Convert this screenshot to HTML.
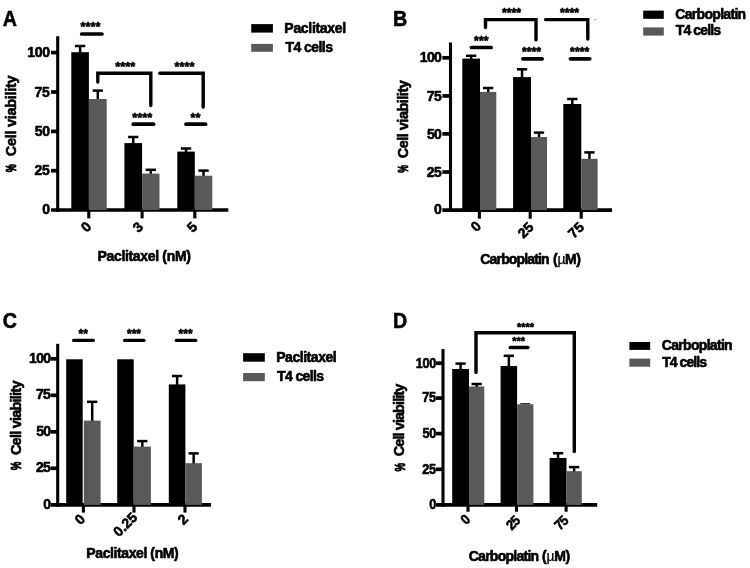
<!DOCTYPE html>
<html><head><meta charset="utf-8"><title>Cell viability</title>
<style>
html,body{margin:0;padding:0;background:#fff;}
svg{display:block}
svg text{font-family:'Liberation Sans', Arial, Helvetica, sans-serif;font-weight:bold;fill:#000;stroke:#000;stroke-width:0.6px;stroke-linejoin:round;font-kerning:none;white-space:pre}
</style></head>
<body>
<svg width="750" height="568" viewBox="0 0 750 568">
<rect width="750" height="568" fill="#fff"/>
<text x="-0.56" y="0" font-size="22.6" transform="translate(3.2 25.6) scale(0.87 1)">A</text>
<line x1="57.7" y1="36.2" x2="57.7" y2="211.85" stroke="#000" stroke-width="3.1" stroke-linecap="butt"/>
<line x1="51.0" y1="210.0" x2="228.3" y2="210.0" stroke="#000" stroke-width="3.7" stroke-linecap="butt"/>
<line x1="51.0" y1="52.6" x2="57.7" y2="52.6" stroke="#000" stroke-width="3.7" stroke-linecap="butt"/>
<line x1="51.0" y1="92.0" x2="57.7" y2="92.0" stroke="#000" stroke-width="3.7" stroke-linecap="butt"/>
<line x1="51.0" y1="131.4" x2="57.7" y2="131.4" stroke="#000" stroke-width="3.7" stroke-linecap="butt"/>
<line x1="51.0" y1="170.7" x2="57.7" y2="170.7" stroke="#000" stroke-width="3.7" stroke-linecap="butt"/>
<line x1="88.8" y1="210.0" x2="88.8" y2="218.4" stroke="#000" stroke-width="3.1" stroke-linecap="butt"/>
<line x1="142.1" y1="210.0" x2="142.1" y2="218.4" stroke="#000" stroke-width="3.1" stroke-linecap="butt"/>
<line x1="194.8" y1="210.0" x2="194.8" y2="218.4" stroke="#000" stroke-width="3.1" stroke-linecap="butt"/>
<text x="27.22" y="57.31" font-size="14" letter-spacing="-0.251">100</text>
<text x="34.57" y="96.71" font-size="14" letter-spacing="-0.251">75</text>
<text x="34.75" y="136.11" font-size="14" letter-spacing="-0.251">50</text>
<text x="34.57" y="175.41" font-size="14" letter-spacing="-0.251">25</text>
<text x="42.29" y="214.31" font-size="14">0</text>
<line x1="80.1" y1="46" x2="80.1" y2="53.2" stroke="#000" stroke-width="2.5" stroke-linecap="butt"/>
<line x1="74.95" y1="46" x2="85.25" y2="46" stroke="#000" stroke-width="2.5" stroke-linecap="butt"/>
<rect x="71.3" y="52.2" width="17.6" height="157.8" fill="#000"/>
<line x1="97.8" y1="90.6" x2="97.8" y2="100" stroke="#000" stroke-width="2.5" stroke-linecap="butt"/>
<line x1="92.65" y1="90.6" x2="102.95" y2="90.6" stroke="#000" stroke-width="2.5" stroke-linecap="butt"/>
<rect x="88.9" y="99" width="17.8" height="111.0" fill="#595959"/>
<line x1="133.25" y1="137" x2="133.25" y2="144.1" stroke="#000" stroke-width="2.5" stroke-linecap="butt"/>
<line x1="128.1" y1="137" x2="138.4" y2="137" stroke="#000" stroke-width="2.5" stroke-linecap="butt"/>
<rect x="124.4" y="143.1" width="17.7" height="66.9" fill="#000"/>
<line x1="150.8" y1="169.8" x2="150.8" y2="174.6" stroke="#000" stroke-width="2.5" stroke-linecap="butt"/>
<line x1="145.65" y1="169.8" x2="155.95" y2="169.8" stroke="#000" stroke-width="2.5" stroke-linecap="butt"/>
<rect x="142.1" y="173.6" width="17.4" height="36.4" fill="#595959"/>
<line x1="186.05" y1="148.5" x2="186.05" y2="152.6" stroke="#000" stroke-width="2.5" stroke-linecap="butt"/>
<line x1="180.9" y1="148.5" x2="191.2" y2="148.5" stroke="#000" stroke-width="2.5" stroke-linecap="butt"/>
<rect x="177.3" y="151.6" width="17.5" height="58.4" fill="#000"/>
<line x1="203.55" y1="170.6" x2="203.55" y2="176.7" stroke="#000" stroke-width="2.5" stroke-linecap="butt"/>
<line x1="198.4" y1="170.6" x2="208.7" y2="170.6" stroke="#000" stroke-width="2.5" stroke-linecap="butt"/>
<rect x="194.8" y="175.7" width="17.5" height="34.3" fill="#595959"/>
<line x1="81.65" y1="34" x2="101.95" y2="34" stroke="#000" stroke-width="3.7" stroke-linecap="round"/>
<text x="80.53" y="30.93" font-size="12.8">****</text>
<line x1="133.25" y1="124.2" x2="153.55" y2="124.2" stroke="#000" stroke-width="3.7" stroke-linecap="round"/>
<text x="132.33" y="122.03" font-size="12.8">****</text>
<line x1="186.05" y1="124.2" x2="205.55" y2="124.2" stroke="#000" stroke-width="3.7" stroke-linecap="round"/>
<text x="190.61" y="122.23" font-size="12.8">**</text>
<polyline points="97.8,82 97.8,73.3 150.8,73.3 150.8,105.5" fill="none" stroke="#000" stroke-width="3.4" stroke-linejoin="miter" stroke-linecap="round"/>
<text x="115.22" y="71.23" font-size="12.8">****</text>
<polyline points="159.8,73.3 203.2,73.3 203.2,107.1" fill="none" stroke="#000" stroke-width="3.4" stroke-linejoin="miter" stroke-linecap="round"/>
<text x="174.62" y="71.23" font-size="12.8">****</text>
<text x="-7.21" y="0" font-size="14" transform="translate(91.8 228) rotate(-45)">0</text>
<text x="-7.28" y="0" font-size="14" transform="translate(143.6 228) rotate(-45)">3</text>
<text x="-7.4" y="0" font-size="14" transform="translate(198 228) rotate(-45)">5</text>
<text x="97.46" y="260.6" font-size="14" letter-spacing="-0.328">Paclitaxel (nM)</text>
<text x="15.8" y="156.19" font-size="14.5" transform="rotate(-90 15.8 156.19)" letter-spacing="-0.295">Cell viability</text>
<text x="-0.19" y="0" font-size="15.5" style="stroke-width:1.0px" transform="translate(16.1 172.2) rotate(-90) scale(0.5826 1)">%</text>
<rect x="251.2" y="24.1" width="21.7" height="8.5" fill="#000"/>
<rect x="251.2" y="43.9" width="21.7" height="7.9" fill="#595959"/>
<text x="284.36" y="32.5" font-size="14" letter-spacing="-0.308">Paclitaxel</text>
<text x="285.44" y="52.3" font-size="14" letter-spacing="-0.548">T4 cells</text>
<text x="-1.51" y="0" font-size="22.6" transform="translate(394.3 25.6) scale(0.87 1)">B</text>
<line x1="450.5" y1="42.6" x2="450.5" y2="211.95" stroke="#000" stroke-width="3.1" stroke-linecap="butt"/>
<line x1="442.4" y1="210.1" x2="612" y2="210.1" stroke="#000" stroke-width="3.7" stroke-linecap="butt"/>
<line x1="442.4" y1="57.8" x2="450.5" y2="57.8" stroke="#000" stroke-width="3.7" stroke-linecap="butt"/>
<line x1="442.4" y1="95.9" x2="450.5" y2="95.9" stroke="#000" stroke-width="3.7" stroke-linecap="butt"/>
<line x1="442.4" y1="133.9" x2="450.5" y2="133.9" stroke="#000" stroke-width="3.7" stroke-linecap="butt"/>
<line x1="442.4" y1="172.0" x2="450.5" y2="172.0" stroke="#000" stroke-width="3.7" stroke-linecap="butt"/>
<line x1="479.4" y1="210.1" x2="479.4" y2="218.7" stroke="#000" stroke-width="3.1" stroke-linecap="butt"/>
<line x1="530.2" y1="210.1" x2="530.2" y2="218.7" stroke="#000" stroke-width="3.1" stroke-linecap="butt"/>
<line x1="581.2" y1="210.1" x2="581.2" y2="218.7" stroke="#000" stroke-width="3.1" stroke-linecap="butt"/>
<text x="419.82" y="62.41" font-size="14" letter-spacing="-0.651">100</text>
<text x="426.77" y="100.51" font-size="14" letter-spacing="-0.651">75</text>
<text x="426.95" y="138.51" font-size="14" letter-spacing="-0.651">50</text>
<text x="426.77" y="176.61" font-size="14" letter-spacing="-0.651">25</text>
<text x="434.09" y="214.41" font-size="14">0</text>
<line x1="471.15" y1="55.8" x2="471.15" y2="59.6" stroke="#000" stroke-width="2.5" stroke-linecap="butt"/>
<line x1="466.0" y1="55.8" x2="476.3" y2="55.8" stroke="#000" stroke-width="2.5" stroke-linecap="butt"/>
<rect x="462.3" y="58.6" width="17.7" height="151.5" fill="#000"/>
<line x1="488.15" y1="88" x2="488.15" y2="92.9" stroke="#000" stroke-width="2.5" stroke-linecap="butt"/>
<line x1="483.0" y1="88" x2="493.3" y2="88" stroke="#000" stroke-width="2.5" stroke-linecap="butt"/>
<rect x="480.0" y="91.9" width="16.3" height="118.2" fill="#595959"/>
<line x1="522.05" y1="69.3" x2="522.05" y2="78.1" stroke="#000" stroke-width="2.5" stroke-linecap="butt"/>
<line x1="516.9" y1="69.3" x2="527.2" y2="69.3" stroke="#000" stroke-width="2.5" stroke-linecap="butt"/>
<rect x="513.1" y="77.1" width="17.9" height="133.0" fill="#000"/>
<line x1="539.0" y1="132.6" x2="539.0" y2="138" stroke="#000" stroke-width="2.5" stroke-linecap="butt"/>
<line x1="533.85" y1="132.6" x2="544.15" y2="132.6" stroke="#000" stroke-width="2.5" stroke-linecap="butt"/>
<rect x="531" y="137" width="16" height="73.1" fill="#595959"/>
<line x1="572.3" y1="99" x2="572.3" y2="105.0" stroke="#000" stroke-width="2.5" stroke-linecap="butt"/>
<line x1="567.15" y1="99" x2="577.45" y2="99" stroke="#000" stroke-width="2.5" stroke-linecap="butt"/>
<rect x="563.3" y="104.0" width="18.0" height="106.1" fill="#000"/>
<line x1="589.45" y1="152.4" x2="589.45" y2="159.8" stroke="#000" stroke-width="2.5" stroke-linecap="butt"/>
<line x1="584.3" y1="152.4" x2="594.6" y2="152.4" stroke="#000" stroke-width="2.5" stroke-linecap="butt"/>
<rect x="581.3" y="158.8" width="16.3" height="51.3" fill="#595959"/>
<line x1="471.45" y1="47.5" x2="491.15" y2="47.5" stroke="#000" stroke-width="3.7" stroke-linecap="round"/>
<text x="474.11" y="44.87" font-size="12.3">***</text>
<line x1="522.85" y1="58.8" x2="542.15" y2="58.8" stroke="#000" stroke-width="3.7" stroke-linecap="round"/>
<text x="522.01" y="56.47" font-size="12.3">****</text>
<line x1="570.45" y1="58.8" x2="589.75" y2="58.8" stroke="#000" stroke-width="3.7" stroke-linecap="round"/>
<text x="570.11" y="56.47" font-size="12.3">****</text>
<polyline points="485.5,27.5 485.5,19.6 536,19.6 536,39.9" fill="none" stroke="#000" stroke-width="3.4" stroke-linejoin="miter" stroke-linecap="round"/>
<text x="501.91" y="17.17" font-size="12.3">****</text>
<polyline points="545.5,19.6 587.8,19.6 587.8,39.1" fill="none" stroke="#000" stroke-width="3.4" stroke-linejoin="miter" stroke-linecap="round"/>
<text x="559.91" y="17.17" font-size="12.3">****</text>
<rect x="594.5" y="19.1" width="1.1" height="1.0" fill="#555"/>
<text x="-7.21" y="0" font-size="14" transform="translate(481.5 227.3) rotate(-45)">0</text>
<text x="-15.18" y="0" font-size="14" transform="translate(534.3 228.2) rotate(-45)">25</text>
<text x="-15.18" y="0" font-size="14" transform="translate(584.6 228.2) rotate(-45)">75</text>
<text x="480.33" y="263.7" font-size="14" letter-spacing="-0.844">Carboplatin</text>
<text x="553.1" y="263.7" font-size="14" letter-spacing="-0.386">(<tspan style="font-weight:normal;stroke-width:0.25px">µ</tspan>M)</text>
<text x="407.7" y="158.29" font-size="14.5" transform="rotate(-90 407.7 158.29)" letter-spacing="-0.503">Cell viability</text>
<text x="-0.19" y="0" font-size="15.5" style="stroke-width:1.0px" transform="translate(408.0 172.7) rotate(-90) scale(0.5602 1)">%</text>
<rect x="643.2" y="10.6" width="20.6" height="8.2" fill="#000"/>
<rect x="643.2" y="27.4" width="20.6" height="8.2" fill="#595959"/>
<text x="675.33" y="18.6" font-size="14" letter-spacing="-0.694">Carboplatin</text>
<text x="675.74" y="35.4" font-size="14" letter-spacing="-0.876">T4 cells</text>
<text x="-0.93" y="0" font-size="22.6" transform="translate(3.5 327.5) scale(0.87 1)">C</text>
<line x1="57.7" y1="343.8" x2="57.7" y2="506.75" stroke="#000" stroke-width="3.1" stroke-linecap="butt"/>
<line x1="50.8" y1="504.9" x2="211" y2="504.9" stroke="#000" stroke-width="3.7" stroke-linecap="butt"/>
<line x1="50.8" y1="358.8" x2="57.7" y2="358.8" stroke="#000" stroke-width="3.7" stroke-linecap="butt"/>
<line x1="50.8" y1="395.3" x2="57.7" y2="395.3" stroke="#000" stroke-width="3.7" stroke-linecap="butt"/>
<line x1="50.8" y1="431.8" x2="57.7" y2="431.8" stroke="#000" stroke-width="3.7" stroke-linecap="butt"/>
<line x1="50.8" y1="468.3" x2="57.7" y2="468.3" stroke="#000" stroke-width="3.7" stroke-linecap="butt"/>
<line x1="83.4" y1="504.9" x2="83.4" y2="512.6" stroke="#000" stroke-width="3.1" stroke-linecap="butt"/>
<line x1="134" y1="504.9" x2="134" y2="512.6" stroke="#000" stroke-width="3.1" stroke-linecap="butt"/>
<line x1="185" y1="504.9" x2="185" y2="512.6" stroke="#000" stroke-width="3.1" stroke-linecap="butt"/>
<text x="29.02" y="362.81" font-size="14" letter-spacing="-0.651">100</text>
<text x="35.97" y="399.31" font-size="14" letter-spacing="-0.651">75</text>
<text x="36.15" y="435.81" font-size="14" letter-spacing="-0.651">50</text>
<text x="35.97" y="472.31" font-size="14" letter-spacing="-0.651">25</text>
<text x="43.29" y="508.91" font-size="14">0</text>
<rect x="66.2" y="359.3" width="16.5" height="145.6" fill="#000"/>
<line x1="92.2" y1="401.8" x2="92.2" y2="421.6" stroke="#000" stroke-width="2.5" stroke-linecap="butt"/>
<line x1="87.05" y1="401.8" x2="97.35" y2="401.8" stroke="#000" stroke-width="2.5" stroke-linecap="butt"/>
<rect x="83.8" y="420.6" width="16.8" height="84.3" fill="#595959"/>
<rect x="117.2" y="359.3" width="16.5" height="145.6" fill="#000"/>
<line x1="142.3" y1="441.1" x2="142.3" y2="447.6" stroke="#000" stroke-width="2.5" stroke-linecap="butt"/>
<line x1="137.15" y1="441.1" x2="147.45" y2="441.1" stroke="#000" stroke-width="2.5" stroke-linecap="butt"/>
<rect x="133.7" y="446.6" width="17.2" height="58.3" fill="#595959"/>
<line x1="177.1" y1="376" x2="177.1" y2="385.4" stroke="#000" stroke-width="2.5" stroke-linecap="butt"/>
<line x1="171.95" y1="376" x2="182.25" y2="376" stroke="#000" stroke-width="2.5" stroke-linecap="butt"/>
<rect x="168.8" y="384.4" width="16.6" height="120.5" fill="#000"/>
<line x1="193.65" y1="453.4" x2="193.65" y2="464.2" stroke="#000" stroke-width="2.5" stroke-linecap="butt"/>
<line x1="188.5" y1="453.4" x2="198.8" y2="453.4" stroke="#000" stroke-width="2.5" stroke-linecap="butt"/>
<rect x="185.4" y="463.2" width="16.5" height="41.7" fill="#595959"/>
<line x1="73.6" y1="340.4" x2="93.4" y2="340.4" stroke="#000" stroke-width="3.2" stroke-linecap="round"/>
<text x="78.52" y="337.72" font-size="12">**</text>
<line x1="124.6" y1="340.4" x2="144.0" y2="340.4" stroke="#000" stroke-width="3.2" stroke-linecap="round"/>
<text x="126.98" y="337.72" font-size="12">***</text>
<line x1="176.2" y1="340.4" x2="195.8" y2="340.4" stroke="#000" stroke-width="3.2" stroke-linecap="round"/>
<text x="178.58" y="337.72" font-size="12">***</text>
<text x="-7.21" y="0" font-size="14" transform="translate(85.5 520.3) rotate(-45)">0</text>
<text x="-26.86" y="0" font-size="14" transform="translate(138 518.5) rotate(-45)">0.25</text>
<text x="-7.23" y="0" font-size="14" transform="translate(188.5 520.3) rotate(-45)">2</text>
<text x="86.36" y="558.0" font-size="14" letter-spacing="-0.407">Paclitaxel (nM)</text>
<text x="21.1" y="455.09" font-size="14.5" transform="rotate(-90 21.1 455.09)" letter-spacing="-0.772">Cell viability</text>
<text x="-0.19" y="0" font-size="15.5" style="stroke-width:1.0px" transform="translate(21.4 470.1) rotate(-90) scale(0.62 1)">%</text>
<rect x="243.1" y="353.2" width="21.7" height="8.5" fill="#000"/>
<rect x="243.1" y="373" width="21.7" height="8.2" fill="#595959"/>
<text x="276.26" y="361.5" font-size="14" letter-spacing="-0.464">Paclitaxel</text>
<text x="277.04" y="381.3" font-size="14" letter-spacing="-0.619">T4 cells</text>
<text x="-1.51" y="0" font-size="22.6" transform="translate(394.3 327.5) scale(0.87 1)">D</text>
<line x1="443.0" y1="349" x2="443.0" y2="506.75" stroke="#000" stroke-width="3.1" stroke-linecap="butt"/>
<line x1="436.0" y1="504.9" x2="597.2" y2="504.9" stroke="#000" stroke-width="3.7" stroke-linecap="butt"/>
<line x1="436.0" y1="363.2" x2="443.0" y2="363.2" stroke="#000" stroke-width="3.7" stroke-linecap="butt"/>
<line x1="436.0" y1="398.1" x2="443.0" y2="398.1" stroke="#000" stroke-width="3.7" stroke-linecap="butt"/>
<line x1="436.0" y1="433.6" x2="443.0" y2="433.6" stroke="#000" stroke-width="3.7" stroke-linecap="butt"/>
<line x1="436.0" y1="469.3" x2="443.0" y2="469.3" stroke="#000" stroke-width="3.7" stroke-linecap="butt"/>
<line x1="468.0" y1="504.9" x2="468.0" y2="511.7" stroke="#000" stroke-width="3.1" stroke-linecap="butt"/>
<line x1="516.5" y1="504.9" x2="516.5" y2="511.7" stroke="#000" stroke-width="3.1" stroke-linecap="butt"/>
<line x1="566.1" y1="504.9" x2="566.1" y2="511.7" stroke="#000" stroke-width="3.1" stroke-linecap="butt"/>
<text x="-22.22" y="0" font-size="14" transform="translate(435.7 367.51) scale(0.9 1)" letter-spacing="-0.285">100</text>
<text x="-14.9" y="0" font-size="14" transform="translate(435.7 402.41) scale(0.9 1)" letter-spacing="-0.285">75</text>
<text x="-14.71" y="0" font-size="14" transform="translate(435.7 437.91) scale(0.9 1)" letter-spacing="-0.285">50</text>
<text x="-14.9" y="0" font-size="14" transform="translate(435.7 473.61) scale(0.9 1)" letter-spacing="-0.285">25</text>
<text x="-7.21" y="0" font-size="14" transform="translate(435.7 508.81) scale(0.9 1)">0</text>
<line x1="460.6" y1="363.6" x2="460.6" y2="370" stroke="#000" stroke-width="2.5" stroke-linecap="butt"/>
<line x1="455.45" y1="363.6" x2="465.75" y2="363.6" stroke="#000" stroke-width="2.5" stroke-linecap="butt"/>
<rect x="452.2" y="369" width="16.8" height="135.9" fill="#000"/>
<line x1="476.65" y1="384" x2="476.65" y2="387.5" stroke="#000" stroke-width="2.5" stroke-linecap="butt"/>
<line x1="471.5" y1="384" x2="481.8" y2="384" stroke="#000" stroke-width="2.5" stroke-linecap="butt"/>
<rect x="469" y="386.5" width="15.3" height="118.4" fill="#595959"/>
<line x1="508.85" y1="355.8" x2="508.85" y2="367" stroke="#000" stroke-width="2.5" stroke-linecap="butt"/>
<line x1="503.7" y1="355.8" x2="514.0" y2="355.8" stroke="#000" stroke-width="2.5" stroke-linecap="butt"/>
<rect x="500.6" y="366" width="16.5" height="138.9" fill="#000"/>
<line x1="525.25" y1="403.8" x2="525.25" y2="405.3" stroke="#000" stroke-width="1.2" stroke-linecap="butt"/>
<line x1="520.25" y1="403.8" x2="530.25" y2="403.8" stroke="#000" stroke-width="1.2" stroke-linecap="butt"/>
<rect x="517.1" y="404.3" width="16.3" height="100.6" fill="#595959"/>
<line x1="558.05" y1="453.2" x2="558.05" y2="459" stroke="#000" stroke-width="2.5" stroke-linecap="butt"/>
<line x1="552.9" y1="453.2" x2="563.2" y2="453.2" stroke="#000" stroke-width="2.5" stroke-linecap="butt"/>
<rect x="549.6" y="458" width="16.9" height="46.9" fill="#000"/>
<line x1="574.15" y1="467.1" x2="574.15" y2="472.2" stroke="#000" stroke-width="2.5" stroke-linecap="butt"/>
<line x1="569.0" y1="467.1" x2="579.3" y2="467.1" stroke="#000" stroke-width="2.5" stroke-linecap="butt"/>
<rect x="566.5" y="471.2" width="15.3" height="33.7" fill="#595959"/>
<polyline points="476,372.4 476,332.8 574.3,332.8 574.3,451.5" fill="none" stroke="#000" stroke-width="3.4" stroke-linejoin="miter" stroke-linecap="round"/>
<text x="517.01" y="330.97" font-size="10.9">****</text>
<line x1="510.45" y1="347.5" x2="527.75" y2="347.5" stroke="#000" stroke-width="3.7" stroke-linecap="round"/>
<text x="512.33" y="344.77" font-size="10.9">***</text>
<text x="-7.21" y="0" font-size="14" transform="translate(470.8 520.6) rotate(-45) scale(0.9 1)">0</text>
<text x="-14.58" y="0" font-size="14" transform="translate(521.0 521.5) rotate(-45) scale(0.9 1)" letter-spacing="-0.6">25</text>
<text x="-14.58" y="0" font-size="14" transform="translate(569.2 521.5) rotate(-45) scale(0.9 1)" letter-spacing="-0.6">75</text>
<text x="468.73" y="560.6" font-size="14" letter-spacing="-0.734">Carboplatin</text>
<text x="542.0" y="560.6" font-size="14" letter-spacing="-0.286">(<tspan style="font-weight:normal;stroke-width:0.25px">µ</tspan>M)</text>
<text x="404.5" y="456.19" font-size="14.5" transform="rotate(-90 404.5 456.19)" letter-spacing="-0.934">Cell viability</text>
<text x="-0.19" y="0" font-size="15.5" style="stroke-width:1.0px" transform="translate(404.8 471.4) rotate(-90) scale(0.62 1)">%</text>
<rect x="629.4" y="342" width="20.8" height="7.9" fill="#000"/>
<rect x="629.4" y="358.6" width="20.8" height="8.1" fill="#595959"/>
<text x="661.83" y="349.6" font-size="14" letter-spacing="-0.694">Carboplatin</text>
<text x="662.24" y="366.5" font-size="14" letter-spacing="-0.948">T4 cells</text>
</svg>
</body></html>
